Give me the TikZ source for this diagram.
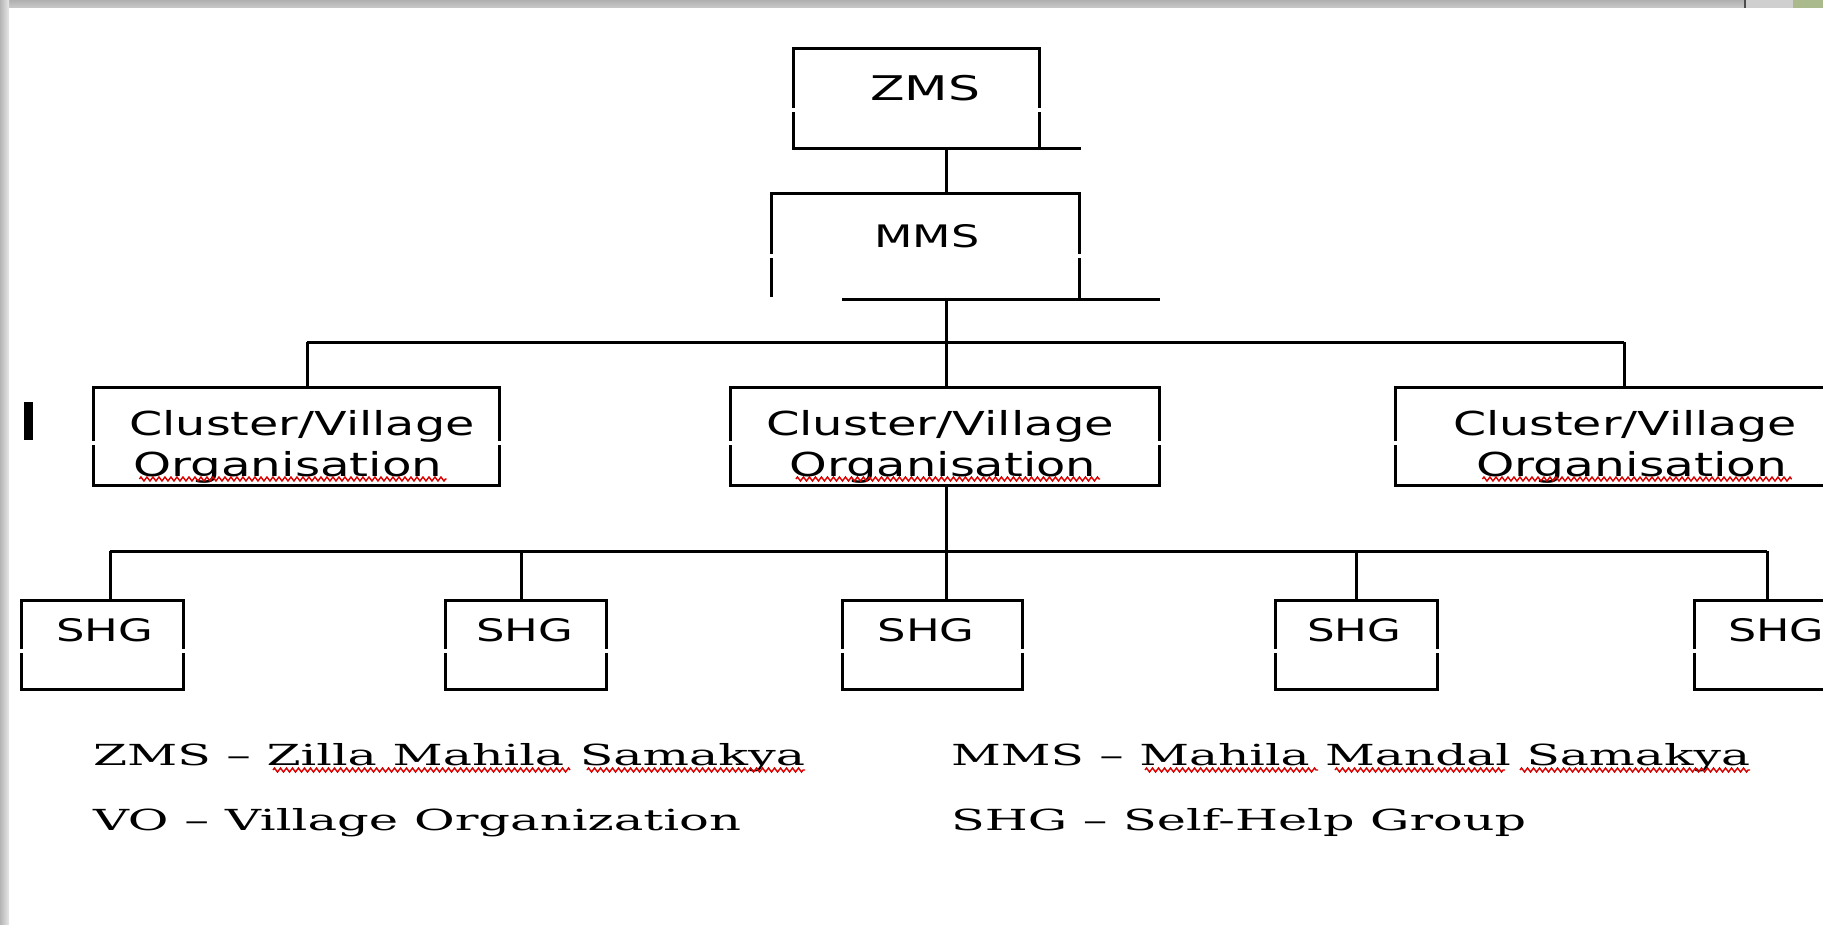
\documentclass[tikz,border=0pt]{standalone}
\usepackage{fontspec}
\usepackage{graphicx}
\usetikzlibrary{decorations.pathmorphing}
\newfontfamily\boxfont{DejaVu Sans}
\newfontfamily\legfont{DejaVu Serif}
\newcommand\myfit[2]{\resizebox{#1}{\height}{#2}}
\definecolor{barleaf}{RGB}{170,186,140}
\tikzset{
  box/.style={draw=black, line width=3pt, rectangle, inner sep=0pt, outer sep=0pt},
  frame/.style={rectangle, inner sep=0pt, outer sep=0pt},
  wire/.style={draw=black, line width=3pt},
  lbl/.style={inner sep=0pt, outer sep=0pt, anchor=base, font=\boxfont\fontsize{33}{33}\selectfont},
  lblsmall/.style={lbl, font=\boxfont\fontsize{31}{31}\selectfont},
  lblbig/.style={lbl, font=\boxfont\fontsize{34}{34}\selectfont},
  leg/.style={inner sep=0pt, outer sep=0pt, anchor=base west, font=\legfont\fontsize{29}{29}\selectfont},
  spell/.style={draw=red!85!black, line width=1.4pt, decorate,
    decoration={zigzag, amplitude=2pt, segment length=6pt}},
  gapmark/.style={draw=white, line width=4pt},
}
\begin{document}
\begin{tikzpicture}[x=1pt, y=-1pt]
\useasboundingbox (0,0) rectangle (1823,925);
\clip (0,0) rectangle (1823,925);
\fill[white] (0,0) rectangle (1823,925);
% window frame
\shade[top color=gray!62, bottom color=gray!42] (0,0) rectangle (1823,8);
\shade[left color=gray!58, right color=gray!18] (0,0) rectangle (9,925);
\fill[gray!38] (1745,0) rectangle (1793,8);
\draw[black!70, line width=1.2pt] (1745,0) -- (1745,8);
\fill[barleaf] (1793,0) rectangle (1823,8);

% caret mark
\node[fill=black, inner sep=0pt, minimum width=9pt, minimum height=38pt] (caret) at (28,421) {};

% spine
\coordinate (spine) at (946,0);

% ZMS
\node[box, minimum width=246pt, minimum height=100pt] (zms) at (916,99) {};
\node[lblbig] (zmsT) at (925,101) {\myfit{110pt}{ZMS}};
\draw[wire] (zms.south east) -- ++(42,0);

% MMS
\node[frame, minimum width=308pt, minimum height=106pt] (mms) at (925,247) {};
\draw[wire] ([yshift=3pt]mms.south west) -- (mms.north west) -- (mms.north east) -- (mms.south east);
\draw[wire] ([xshift=71pt]mms.south west) -- ([xshift=81pt]mms.south east);
\node[lblsmall] (mmsT) at (927,248) {\myfit{105pt}{MMS}};
\draw[wire] (zms.south -| spine) -- (mms.north -| spine);

% level 1 bus
\coordinate (bus1) at (946,342);
\coordinate (d1) at (307,342);
\coordinate (d3) at (1624,342);
\draw[wire] (mms.south -| spine) -- (bus1);
\draw[wire] (d1) -- (d3);

% cluster / village organisations
\node[box, minimum width=406pt, minimum height=98pt] (cv1) at (296,436) {};
\node[box, minimum width=429pt, minimum height=98pt] (cv2) at (944.5,436) {};
\node[box, minimum width=470pt, minimum height=98pt] (cv3) at (1630,436) {};
\draw[wire] (d1) -- (d1 |- cv1.north);
\draw[wire] (bus1) -- (bus1 |- cv2.north);
\draw[wire] (d3) -- (d3 |- cv3.north);

\node[lbl] (cv1a) at (302,435) {\myfit{345pt}{Cluster/Village}};
\node[lbl] (cv1b) at (288,476) {\myfit{309pt}{Organisation}};
\node[lbl] (cv2a) at (940,435) {\myfit{348pt}{Cluster/Village}};
\node[lbl] (cv2b) at (943,476) {\myfit{306pt}{Organisation}};
\node[lbl] (cv3a) at (1625,435) {\myfit{344pt}{Cluster/Village}};
\node[lbl] (cv3b) at (1632,476) {\myfit{311pt}{Organisation}};
\foreach \t in {cv1b,cv2b,cv3b}{
  \draw[spell] ([xshift=6pt,yshift=-3pt]\t.base west) -- ([xshift=4pt,yshift=-3pt]\t.base east);
}

% level 2 bus
\coordinate (bus2) at (946,551);
\coordinate (e1) at (110,551);
\coordinate (e2) at (521,551);
\coordinate (e4) at (1356,551);
\coordinate (e5) at (1767,551);
\draw[wire] (cv2.south -| spine) -- (bus2);
\draw[wire] (e1) -- (e5);

% SHGs
\node[box, minimum width=162pt, minimum height=89pt] (sh1) at (102,644.5) {};
\node[box, minimum width=161pt, minimum height=89pt] (sh2) at (525.5,644.5) {};
\node[box, minimum width=180pt, minimum height=89pt] (sh3) at (932,644.5) {};
\node[box, minimum width=162pt, minimum height=89pt] (sh4) at (1356,644.5) {};
\node[box, minimum width=162pt, minimum height=89pt] (sh5) at (1775,644.5) {};
\draw[wire] (e1) -- (e1 |- sh1.north);
\draw[wire] (e2) -- (e2 |- sh2.north);
\draw[wire] (bus2) -- (bus2 |- sh3.north);
\draw[wire] (e4) -- (e4 |- sh4.north);
\draw[wire] (e5) -- (e5 |- sh5.north);
\node[lblsmall] (sh1T) at (105,641) {\myfit{97pt}{SHG}};
\node[lblsmall] (sh2T) at (525,641) {\myfit{97pt}{SHG}};
\node[lblsmall] (sh3T) at (926,641) {\myfit{97pt}{SHG}};
\node[lblsmall] (sh4T) at (1354,641) {\myfit{94pt}{SHG}};
\node[lblsmall] (sh5T) at (1776,641) {\myfit{96pt}{SHG}};

% small breaks in box sides
\foreach \n in {zms}{
  \draw[gapmark] ([yshift=-9pt]\n.west) -- ([yshift=-13pt]\n.west);
  \draw[gapmark] ([yshift=-9pt]\n.east) -- ([yshift=-13pt]\n.east);
}
\draw[gapmark] ([yshift=-7pt]mms.west) -- ([yshift=-11pt]mms.west);
\draw[gapmark] ([yshift=-7pt]mms.east) -- ([yshift=-11pt]mms.east);
\foreach \n in {cv1,cv2,cv3}{
  \draw[gapmark] ([yshift=-5pt]\n.west) -- ([yshift=-8.5pt]\n.west);
  \draw[gapmark] ([yshift=-5pt]\n.east) -- ([yshift=-8.5pt]\n.east);
}
\foreach \n in {sh1,sh2,sh3,sh4,sh5}{
  \draw[gapmark] ([yshift=-4pt]\n.west) -- ([yshift=-8pt]\n.west);
  \draw[gapmark] ([yshift=-4pt]\n.east) -- ([yshift=-8pt]\n.east);
}

% legend
\node[leg] (leg1) at (93,765) {\myfit{712pt}{ZMS – Zilla Mahila Samakya}};
\node[leg] (leg2) at (93,830) {\myfit{648pt}{VO – Village Organization}};
\node[leg] (leg3) at (951,765) {\myfit{799pt}{MMS – Mahila Mandal Samakya}};
\node[leg] (leg4) at (951,830) {\myfit{575pt}{SHG – Self-Help Group}};
\draw[spell] ([xshift=180pt,yshift=-5pt]leg1.base west) -- ([xshift=477pt,yshift=-5pt]leg1.base west);
\draw[spell] ([xshift=494pt,yshift=-5pt]leg1.base west) -- ([xshift=712pt,yshift=-5pt]leg1.base west);
\draw[spell] ([xshift=194pt,yshift=-5pt]leg3.base west) -- ([xshift=367pt,yshift=-5pt]leg3.base west);
\draw[spell] ([xshift=384pt,yshift=-5pt]leg3.base west) -- ([xshift=554pt,yshift=-5pt]leg3.base west);
\draw[spell] ([xshift=569pt,yshift=-5pt]leg3.base west) -- ([xshift=799pt,yshift=-5pt]leg3.base west);
\end{tikzpicture}
\end{document}
